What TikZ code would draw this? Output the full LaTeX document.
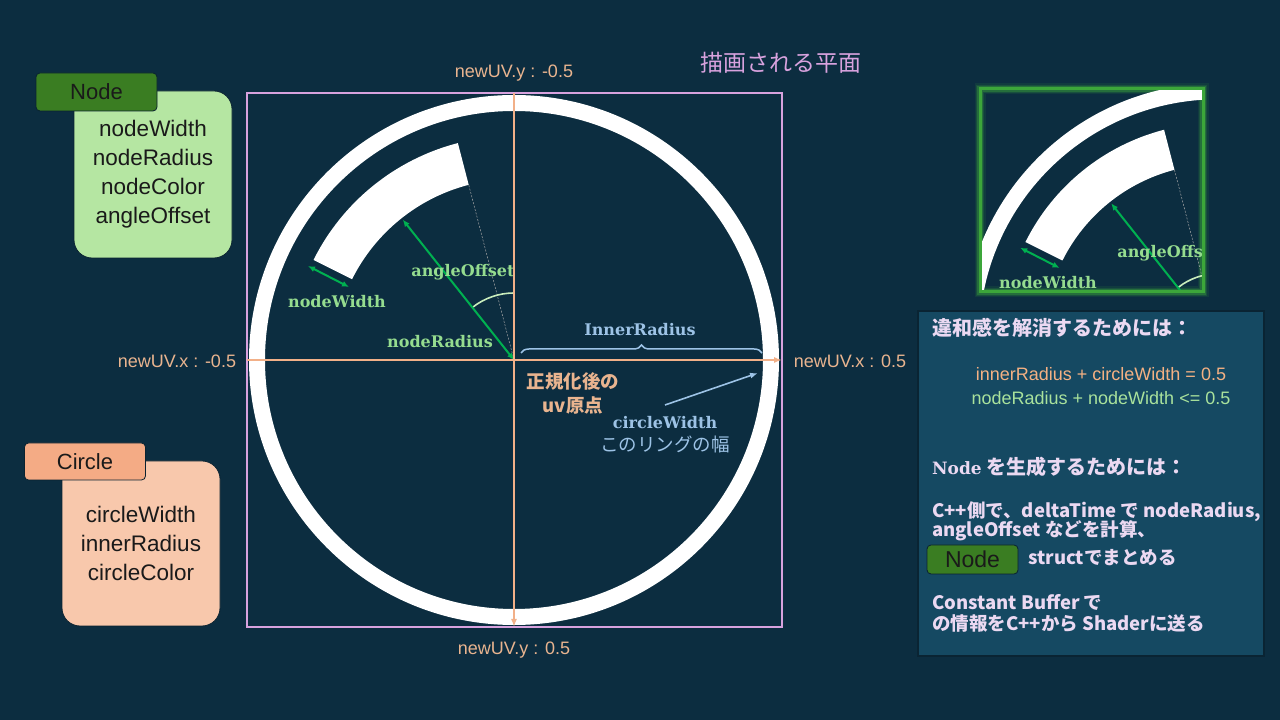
\documentclass[tikz,border=0pt]{standalone}
\usepackage{fontspec}
\setmainfont{Noto Sans CJK JP}
\newfontfamily\labelserif{DejaVu Serif}
\newfontfamily\latinsans{Liberation Sans}
\usetikzlibrary{arrows.meta,positioning,decorations.pathreplacing}
\definecolor{bg}{HTML}{0C2D40}
\definecolor{ink}{HTML}{1A1A1A}
\definecolor{uvline}{HTML}{F2B088}
\definecolor{uvtext}{HTML}{E9B48F}
\definecolor{plane}{HTML}{D8A2DE}
\definecolor{nodegreen}{HTML}{00B050}
\definecolor{greentext}{HTML}{95DC8F}
\definecolor{palearc}{HTML}{C9EDBC}
\definecolor{ringblue}{HTML}{9DC3E6}
\definecolor{tabgreen}{HTML}{3A7D22}
\definecolor{greenfill}{HTML}{B5E6A2}
\definecolor{tabsalmon}{HTML}{F4AB85}
\definecolor{salmonfill}{HTML}{F8C8AC}
\definecolor{tabline}{HTML}{0A2230}
\definecolor{panelfill}{HTML}{154962}
\definecolor{panelline}{HTML}{0A2433}
\definecolor{paneltext}{HTML}{EBD9F2}
\definecolor{eqorange}{HTML}{F4B183}
\definecolor{eqgreen}{HTML}{A9E29C}
\definecolor{insetgreen}{HTML}{3CA63A}
\tikzset{
  tab/.style={draw=tabline, rounded corners=4pt, thick, minimum width=121pt, minimum height=38pt, inner sep=0pt, font=\latinsans\fontsize{22}{24}\selectfont, text=ink},
  greentab/.style={tab, fill=tabgreen},
  salmontab/.style={tab, fill=tabsalmon},
  parambox/.style={draw=tabline, rounded corners=18pt, thick, minimum width=158pt, align=center, inner sep=0pt, font=\latinsans\fontsize{22.5}{29}\selectfont, text=ink},
  uvlabel/.style={font=\latinsans\fontsize{18}{20}\selectfont, text=uvtext},
  serifgreen/.style={font=\labelserif\bfseries\fontsize{16}{19}\selectfont, text=greentext},
  serifblue/.style={font=\labelserif\bfseries\fontsize{16}{19}\selectfont, text=ringblue},
  paneltxt/.style={font=\bfseries\fontsize{18.5}{21}\selectfont, text=paneltext, anchor=west, inner sep=0pt},
  eqtxt/.style={font=\latinsans\fontsize{18}{20}\selectfont, inner sep=0pt},
  uvarrow/.style={-{Latex[length=8pt,width=6pt]}, line width=2pt, draw=uvline},
  greenarrow/.style={{Latex[length=7pt,width=6pt]}-{Latex[length=7pt,width=6pt]}, line width=2pt, draw=nodegreen},
  bluearrow/.style={-{Latex[length=8pt,width=6pt]}, line width=1.6pt, draw=ringblue}
}
% ring, node arc and their labels (drawn twice: plane and zoomed inset)
\newcommand{\planedetail}[1]{%
  \coordinate (#1c) at (514,360);
  \coordinate (#1tip) at (468.7,535.2);
  \coordinate (#1rin) at (402.8,500.3);
  \coordinate (#1wa) at (308,454);
  \coordinate (#1wb) at (349,433);
  \draw[white, line width=16pt] (#1c) circle[radius=257];
  \fill[white] (468.7,535.2) arc[start angle=104.5, end angle=153.5, radius=181]
    -- (313.5,460.0) arc[start angle=153.5, end angle=104.5, radius=224] -- cycle;
  \draw[gray!70, line width=0.5pt, dash pattern=on 2pt off 1.5pt] (#1c) -- (#1tip);
  \draw[palearc, line width=1.6pt] (514,427) arc[start angle=90, end angle=128, radius=67];
  \draw[greenarrow] (#1c) -- (#1rin);
  \draw[greenarrow] (#1wa) -- (#1wb);
  \node[serifgreen] (#1offset) at (463,448) {angleOffset};
  \node[serifgreen] (#1width) at (337,418) {nodeWidth};
  \node[serifgreen] (#1radius) at (440,378) {nodeRadius};
}

\begin{document}
\begin{tikzpicture}[x=1pt, y=1pt]
\fill[bg] (0,0) rectangle (1280,720);
\useasboundingbox (0,0) rectangle (1280,720);

% drawing plane
\draw[plane, line width=1.6pt] (247,93) rectangle (782,627);
\node[font=\fontsize{23}{26}\selectfont, text=plane] (title) at (781,657) {描画される平面};
\planedetail{m}
\coordinate (xl) at (247,360);
\coordinate (xr) at (782,360);
\coordinate (yt) at (514,627);
\coordinate (yb) at (514,93);
\draw[uvarrow] (xl) -- (xr);
\draw[uvarrow] (yt) -- (yb);
\node[uvlabel] (ymin) at (514,647) {newUV.y : -0.5};
\node[uvlabel] (ymax) at (514,70) {newUV.y : 0.5};
\node[uvlabel] (xmin) at (177,359) {newUV.x : -0.5};
\node[uvlabel] (xmax) at (850,359) {newUV.x : 0.5};
\node[font=\bfseries\fontsize{18.5}{24}\selectfont, text=uvtext, align=center] (origin) at (573,327) {正規化後の\\uv原点};

% inner radius and ring width
\coordinate (ba) at (521,367);
\coordinate (bb) at (762,367);
\draw[ringblue, line width=1.5pt, decorate, decoration={brace, amplitude=8pt}] (ba) -- (bb);
\node[serifblue] (inner) at (640,390) {InnerRadius};
\node[serifblue] (cwidth) at (665,297) {circleWidth};
\node[font=\fontsize{18.5}{22}\selectfont, text=ringblue] (ringlbl) at (665,276) {このリングの幅};
\coordinate (cwa) at (665,315);
\coordinate (cwb) at (758,347);
\draw[bluearrow] (cwa) -- (cwb);

% parameter boxes
\node[parambox, fill=greenfill, minimum height=167pt] (nodebox) at (153,545.5) {nodeWidth\\nodeRadius\\nodeColor\\angleOffset};
\node[greentab] (nodetab) at (96.5,628) {Node};
\node[parambox, fill=salmonfill, minimum height=165pt] (circlebox) at (141,176.5) {circleWidth\\innerRadius\\circleColor};
\node[salmontab, minimum height=37pt] (circletab) at (85,258.5) {Circle};

% zoomed inset
\foreach \w/\o in {11/0.12, 8/0.2, 5.5/0.35} {
  \draw[insetgreen, line width=\w pt, opacity=\o] (980,428) rectangle (1203,631);
}
\begin{scope}
  \clip (980,428) rectangle (1203,631);
  \begin{scope}[shift={(724.5,36.4)}, scale=0.96]
    \planedetail{z}
  \end{scope}
\end{scope}
\draw[insetgreen, line width=3pt] (980,428) rectangle (1203,631);

% notes panel
\node[draw=panelline, fill=panelfill, line width=1.5pt, minimum width=346pt, minimum height=345pt] (panel) at (1091,236.5) {};
\node[paneltxt, font=\bfseries\fontsize{20}{24}\selectfont] (why) at (932,392) {違和感を解消するためには：};
\node[eqtxt, text=eqorange] (eqa) at (1101,345.5) {innerRadius + circleWidth = 0.5};
\node[eqtxt, text=eqgreen] (eqb) at (1101,321.5) {nodeRadius + nodeWidth <= 0.5};
\node[paneltxt, font=\bfseries\fontsize{20}{24}\selectfont] (how) at (932,253) {{\labelserif\fontsize{17}{20}\selectfont Node} を生成するためには：};
\node[paneltxt] (stepa) at (932,208) {C++側で、deltaTime で nodeRadius,};
\node[paneltxt] (stepb) at (932,189) {angleOffset などを計算、};
\node[greentab, minimum width=91pt, minimum height=29pt, font=\latinsans\fontsize{23}{24}\selectfont] (ntab) at (972.5,160.5) {Node};
\node[paneltxt] (stepc) at (1028,162) {structでまとめる};
\node[paneltxt] (stepd) at (932,118) {Constant Buffer で};
\node[paneltxt] (stepe) at (932,97) {の情報をC++から Shaderに送る};
\end{tikzpicture}
\end{document}
